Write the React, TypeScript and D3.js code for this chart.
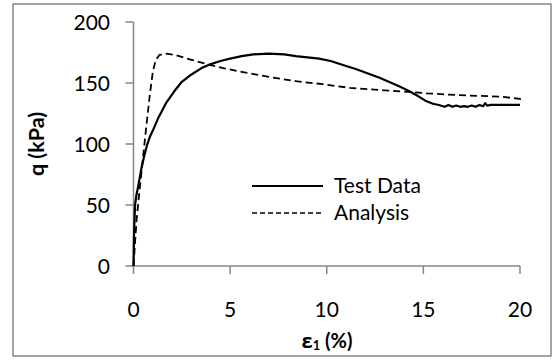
import React from "react";
import * as d3 from "d3";

// Axial strain (%) and deviator stress q (kPa) for the measured curve
const testStrain = [
  0, 0.03, 0.08, 0.15, 0.25, 0.42, 0.55, 0.7, 0.85, 1.0, 1.3, 1.7, 2.1, 2.5, 3.0,
  3.5, 4.0, 4.5, 5.0, 5.6, 6.2, 7.0, 7.8, 8.4, 9.0, 9.6, 10.2, 10.8, 11.5, 12.1,
  12.7, 13.3, 13.8, 14.3, 14.7, 15.1, 15.5, 15.8, 16.1, 16.3, 16.5, 16.7, 16.9,
  17.1, 17.3, 17.5, 17.7, 17.9, 18.1, 18.2, 18.3, 18.5, 20.0,
];
const testQ = [
  0, 28, 50, 58, 66, 81, 90, 99, 106, 111, 122, 134, 143, 151, 157,
  162, 165.5, 168, 170, 172, 173.5, 174, 173.5, 172, 171, 170, 168, 165, 161.5, 158,
  154.5, 150.5, 147, 143, 139.5, 135.5, 133, 132, 130.5, 132, 130.5, 131.5, 130.5,
  131, 130.5, 131.5, 130.5, 132, 131, 133.5, 131.5, 132, 132,
];

// Model prediction
const analysisStrain = [
  0, 0.16, 0.3, 0.5, 0.68, 0.85, 1.0, 1.15, 1.35, 1.7, 2.15, 3.0, 3.9, 4.7, 5.8,
  7.0, 8.4, 9.8, 11.2, 12.1, 13.0, 14.0, 15.2, 16.9, 19.0, 20.2,
];
const analysisQ = [
  0, 38, 60, 90, 117, 141, 159, 169, 173, 174, 173, 169, 165, 162, 158.5,
  155, 151.5, 149, 146, 145, 144, 143, 141.5, 140, 138.8, 136.6,
];

const xTicks = [0, 5, 10, 15, 20];
const yTicks = [0, 50, 100, 150, 200];
const seriesNames = ["Test Data", "Analysis"];

const W = 552;
const H = 360;
const axisColor = "#868686";
const font = "Lato, 'Open Sans', sans-serif";

export default function App() {
  const x = d3.scaleLinear().domain([0, 20]).range([133.5, 520]);
  const y = d3.scaleLinear().domain([0, 200]).range([266, 22]);

  const line = d3
    .line<[number, number]>()
    .x((d) => x(d[0]))
    .y((d) => y(d[1]));

  const testPts = testStrain.map((s, i) => [s, testQ[i]] as [number, number]);
  const anaPts = analysisStrain.map((s, i) => [s, analysisQ[i]] as [number, number]);

  return (
    <svg
      width={W}
      height={H}
      style={{ position: "absolute", left: 0, top: 0, background: "#fff" }}
      fontFamily={font}
    >
      <rect x={13} y={4} width={538} height={352} fill="#fff" stroke={axisColor} strokeWidth={1.5} />

      {/* y axis */}
      <line x1={x(0)} x2={x(0)} y1={y(200)} y2={y(0)} stroke={axisColor} strokeWidth={1.5} />
      {yTicks.map((t) => (
        <g key={"y" + t}>
          <line x1={x(0) - 8} x2={x(0)} y1={y(t)} y2={y(t)} stroke={axisColor} strokeWidth={1.5} />
          <text x={110} y={y(t) + 7.5} textAnchor="end" fontSize={21} fill="#000">
            {t}
          </text>
        </g>
      ))}

      {/* x axis */}
      <line x1={x(0)} x2={x(20)} y1={y(0)} y2={y(0)} stroke={axisColor} strokeWidth={1.5} />
      {xTicks.map((t) => (
        <g key={"x" + t}>
          <line x1={x(t)} x2={x(t)} y1={y(0)} y2={y(0) + 8} stroke={axisColor} strokeWidth={1.5} />
          <text x={x(t)} y={317} textAnchor="middle" fontSize={21} fill="#000">
            {t}
          </text>
        </g>
      ))}

      {/* axis titles */}
      <text x={327} y={348} textAnchor="middle" fontSize={20} fontWeight="bold" fill="#000">
        <tspan fontFamily="'Open Sans', 'DejaVu Sans', sans-serif">ε</tspan>
        <tspan fontSize={13} dy={2}>1</tspan>
        <tspan dy={-2}> (%)</tspan>
      </text>
      <text
        transform={`translate(44, ${(y(0) + y(200)) / 2}) rotate(-90)`}
        textAnchor="middle"
        fontSize={21.5}
        fontWeight="bold"
        fill="#000"
      >
        q (kPa)
      </text>

      {/* curves */}
      <path d={line(anaPts) ?? ""} fill="none" stroke="#000" strokeWidth={1.8} strokeDasharray="7,4" />
      <path d={line(testPts) ?? ""} fill="none" stroke="#000" strokeWidth={2.2} strokeLinejoin="round" />

      {/* legend */}
      <line x1={252} x2={323} y1={186} y2={186} stroke="#000" strokeWidth={2.2} />
      <text x={334} y={193} fontSize={21} fill="#000">
        {seriesNames[0]}
      </text>
      <line x1={252} x2={323} y1={213} y2={213} stroke="#000" strokeWidth={1.3} strokeDasharray="5,3" />
      <text x={334} y={220} fontSize={21} fill="#000">
        {seriesNames[1]}
      </text>
    </svg>
  );
}
